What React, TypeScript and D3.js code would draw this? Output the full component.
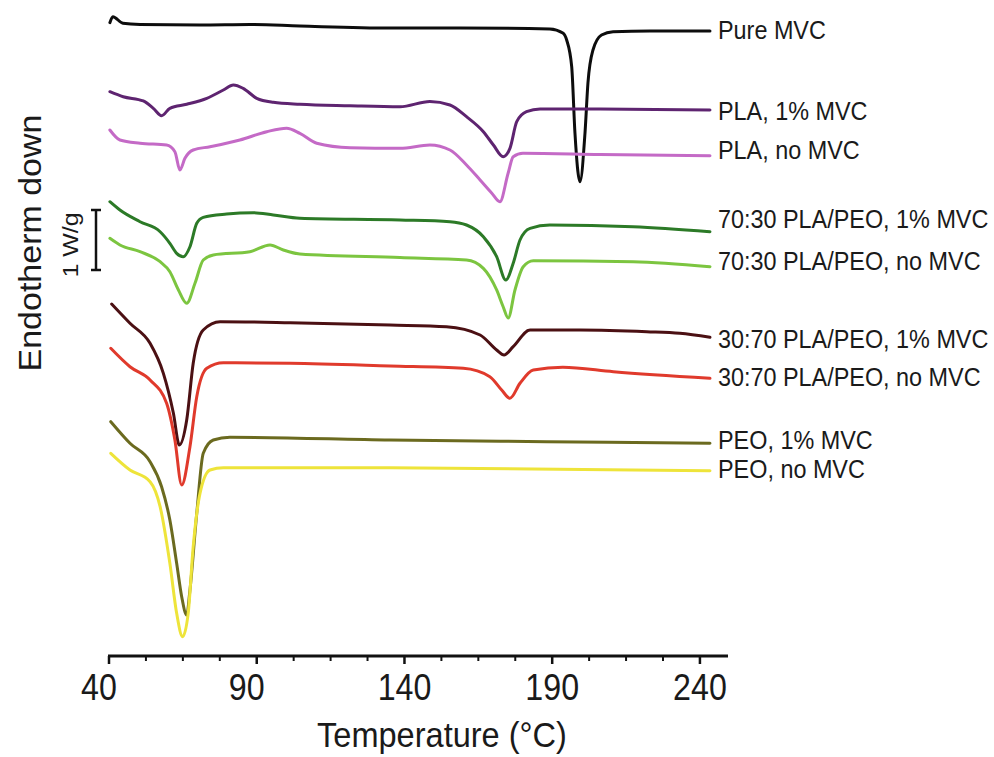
import React from "react";
import * as d3 from "d3";

// ---------- data (temperature °C, heat flow W/g incl. stacking offset) ----------
const SERIES_NAMES = [
  "Pure MVC",
  "PLA, 1% MVC",
  "PLA, no MVC",
  "70:30 PLA/PEO, 1% MVC",
  "70:30 PLA/PEO, no MVC",
  "30:70 PLA/PEO, 1% MVC",
  "30:70 PLA/PEO, no MVC",
  "PEO, 1% MVC",
  "PEO, no MVC",
];

const pureMVC: [number, number][] = [
  [40.3, 10.622], [41.3, 10.722], [44.7, 10.612], [50.5, 10.592], [70.8, 10.583],
  [87.7, 10.592], [104.6, 10.567], [135.1, 10.533], [158.8, 10.533], [189.2, 10.517],
  [193.6, 10.45], [194.9, 10.333], [196.6, 9.888], [197.7, 8.783], [199.4, 7.972],
  [201.1, 8.783], [202.1, 9.617], [203.8, 10.167], [206.7, 10.417], [210.6, 10.472],
  [223.1, 10.483], [243.4, 10.483],
];

const pla1: [number, number][] = [
  [40.3, 9.472], [44.8, 9.388], [51.6, 9.317], [55.0, 9.195], [57.8, 9.072],
  [60.6, 9.195], [66.3, 9.262], [73.1, 9.362], [78.7, 9.5], [82.1, 9.583],
  [85.4, 9.528], [90.0, 9.362], [95.6, 9.295], [104.6, 9.262], [121.6, 9.238],
  [138.5, 9.222], [148.6, 9.308], [155.4, 9.25], [161.0, 9.055], [166.7, 8.805],
  [170.1, 8.583], [173.4, 8.388], [175.7, 8.528], [178.0, 8.972], [181.3, 9.138],
  [185.9, 9.183], [206.2, 9.183], [243.4, 9.167],
];

const plaNo: [number, number][] = [
  [40.3, 8.833], [43.7, 8.667], [50.5, 8.612], [59.5, 8.583], [62.3, 8.472],
  [64.0, 8.167], [65.7, 8.362], [68.5, 8.5], [74.2, 8.555], [84.3, 8.667],
  [93.4, 8.805], [100.1, 8.862], [104.6, 8.778], [110.3, 8.612], [121.6, 8.538],
  [138.5, 8.528], [148.6, 8.583], [155.4, 8.5], [161.0, 8.25], [165.6, 8.0],
  [169.5, 7.783], [172.3, 7.638], [175.1, 8.117], [176.8, 8.388], [180.1, 8.445],
  [206.2, 8.425], [243.4, 8.405],
];

const blend7030_1: [number, number][] = [
  [40.3, 7.638], [43.7, 7.5], [50.5, 7.305], [57.3, 7.138], [60.6, 6.945],
  [62.9, 6.778], [65.1, 6.722], [67.4, 6.888], [69.7, 7.278], [71.9, 7.378],
  [79.8, 7.433], [88.8, 7.455], [95.6, 7.417], [104.6, 7.362], [138.5, 7.333],
  [155.4, 7.305], [161.0, 7.25], [166.7, 7.055], [171.2, 6.722], [174.3, 6.333],
  [176.8, 6.612], [179.1, 7.0], [182.5, 7.195], [189.2, 7.25], [217.4, 7.222],
  [243.4, 7.138],
];

const blend7030_no: [number, number][] = [
  [40.3, 7.028], [43.7, 6.917], [50.5, 6.805], [57.3, 6.638], [60.6, 6.472],
  [63.5, 6.167], [66.3, 5.945], [69.1, 6.278], [71.9, 6.667], [75.3, 6.75],
  [87.7, 6.805], [94.5, 6.917], [99.0, 6.833], [104.6, 6.767], [138.5, 6.708],
  [161.0, 6.667], [166.7, 6.528], [171.2, 6.167], [173.4, 5.888], [175.1, 5.7],
  [177.4, 6.167], [180.2, 6.555], [183.6, 6.655], [217.4, 6.638], [243.4, 6.555],
];

const blend3070_1: [number, number][] = [
  [40.9, 5.933], [47.1, 5.612], [53.9, 5.278], [58.4, 4.778], [61.8, 4.112],
  [63.8, 3.583], [66.3, 4.0], [68.5, 4.945], [71.9, 5.5], [77.6, 5.638],
  [101.3, 5.622], [135.1, 5.583], [154.2, 5.555], [165.6, 5.417], [171.2, 5.167],
  [173.7, 5.083], [176.8, 5.222], [182.5, 5.5], [199.4, 5.5], [222.0, 5.472],
  [233.2, 5.445], [243.4, 5.378],
];

const blend3070_no: [number, number][] = [
  [40.6, 5.195], [47.1, 4.888], [53.9, 4.667], [59.5, 4.278], [62.3, 3.667],
  [64.6, 2.917], [67.4, 3.555], [69.7, 4.388], [73.1, 4.862], [78.7, 4.955],
  [101.3, 4.945], [135.1, 4.9], [159.9, 4.862], [168.9, 4.722], [172.9, 4.5],
  [175.7, 4.362], [179.1, 4.612], [183.6, 4.833], [193.6, 4.878], [210.7, 4.805],
  [243.4, 4.695],
];

const peo1: [number, number][] = [
  [40.6, 3.972], [47.1, 3.612], [53.9, 3.305], [57.8, 2.888], [60.6, 2.333],
  [62.9, 1.612], [64.6, 1.055], [66.3, 0.75], [67.4, 1.167], [69.7, 2.445],
  [71.9, 3.445], [75.3, 3.667], [80.9, 3.712], [135.1, 3.667], [188.1, 3.638],
  [243.4, 3.612],
];

const peoNo: [number, number][] = [
  [40.6, 3.445], [47.1, 3.167], [53.9, 2.972], [57.3, 2.555], [60.6, 1.612],
  [62.9, 0.778], [64.9, 0.388], [66.8, 0.778], [68.5, 1.888], [70.8, 2.778],
  [74.2, 3.167], [78.7, 3.205], [135.1, 3.205], [243.4, 3.155],
];

const SERIES_DATA = [pureMVC, pla1, plaNo, blend7030_1, blend7030_no, blend3070_1, blend3070_no, peo1, peoNo];

const X_TICKS = [40, 90, 140, 190, 240];
const X_MINOR_STEP = 12.5;
const SCALE_BAR_BASE = 6.5; // W/g
const SCALE_BAR_SIZE = 1; // 1 W/g

// ---------- styling / layout ----------
const COLORS = [
  "#0d0d0d", "#5e2470", "#c46ac6", "#2c7a27", "#7cc540",
  "#4b1013", "#e03a2c", "#6b6a1f", "#eee43a",
];
const LABEL_BASELINES = [39, 120, 159, 228, 270, 348, 386, 449, 478];

const W = 994;
const H = 757;
const FONT = "'Liberation Sans', Arial, Helvetica, sans-serif";
const TEXT = "#1a1a1a";

export default function App() {
  const x = d3.scaleLinear().domain([40, 249.5]).range([109, 728]);
  const y = d3.scaleLinear().domain([0, 11]).range([660, 0]);
  const axisY = 656;

  const line = d3
    .line<[number, number]>()
    .x((d) => x(d[0]))
    .y((d) => y(d[1]))
    .curve(d3.curveMonotoneX);

  const minorTicks = d3.range(40, 240.01, X_MINOR_STEP).filter((t) => !X_TICKS.includes(t));

  const barTop = y(SCALE_BAR_BASE + SCALE_BAR_SIZE);
  const barBot = y(SCALE_BAR_BASE);
  const barX = 96;

  return (
    <div style={{ position: "absolute", left: 0, top: 0, width: W, height: H, background: "#fff" }}>
      <svg width={W} height={H} style={{ display: "block" }}>
        <rect x={0} y={0} width={W} height={H} fill="#fff" />

        {/* curves */}
        {SERIES_DATA.map((d, i) => (
          <path
            key={i}
            d={line(d) || ""}
            fill="none"
            stroke={COLORS[i]}
            strokeWidth={3}
            strokeLinejoin="round"
            strokeLinecap="round"
          />
        ))}

        {/* series labels */}
        {SERIES_NAMES.map((name, i) => (
          <text
            key={name}
            transform={`translate(718,${LABEL_BASELINES[i]}) scale(0.9,1)`}
            fontFamily={FONT}
            fontSize={26}
            fill={TEXT}
          >
            {name}
          </text>
        ))}

        {/* x axis */}
        <line x1={x(40) - 1} x2={x(249.5)} y1={axisY} y2={axisY} stroke="#111" strokeWidth={3} />
        {X_TICKS.map((t) => (
          <line key={"M" + t} x1={x(t)} x2={x(t)} y1={axisY} y2={axisY + 8} stroke="#111" strokeWidth={2.5} />
        ))}
        {minorTicks.map((t) => (
          <line key={"m" + t} x1={x(t)} x2={x(t)} y1={axisY} y2={axisY + 5} stroke="#111" strokeWidth={2} />
        ))}
        {X_TICKS.map((t) => (
          <text
            key={"l" + t}
            transform={`translate(${x(t) - (t < 100 ? 10 : 0)},700) scale(0.87,1)`}
            textAnchor="middle"
            fontFamily={FONT}
            fontSize={37}
            fill={TEXT}
          >
            {t}
          </text>
        ))}
        <text
          transform="translate(442,747) scale(0.93,1)"
          textAnchor="middle"
          fontFamily={FONT}
          fontSize={35}
          fill={TEXT}
        >
          Temperature (°C)
        </text>

        {/* y label and scale bar */}
        <text
          transform="translate(41,243) scale(0.9,1) rotate(-90)"
          textAnchor="middle"
          fontFamily={FONT}
          fontSize={34}
          fill={TEXT}
        >
          Endotherm down
        </text>
        <text
          transform={`translate(78,${(barTop + barBot) / 2 + 5}) scale(0.9,1) rotate(-90)`}
          textAnchor="middle"
          fontFamily={FONT}
          fontSize={25}
          fill={TEXT}
        >
          1 W/g
        </text>
        <line x1={barX} x2={barX} y1={barTop} y2={barBot} stroke="#111" strokeWidth={2.5} />
        <line x1={barX - 5} x2={barX + 5} y1={barTop} y2={barTop} stroke="#111" strokeWidth={2.5} />
        <line x1={barX - 5} x2={barX + 5} y1={barBot} y2={barBot} stroke="#111" strokeWidth={2.5} />
      </svg>
    </div>
  );
}
